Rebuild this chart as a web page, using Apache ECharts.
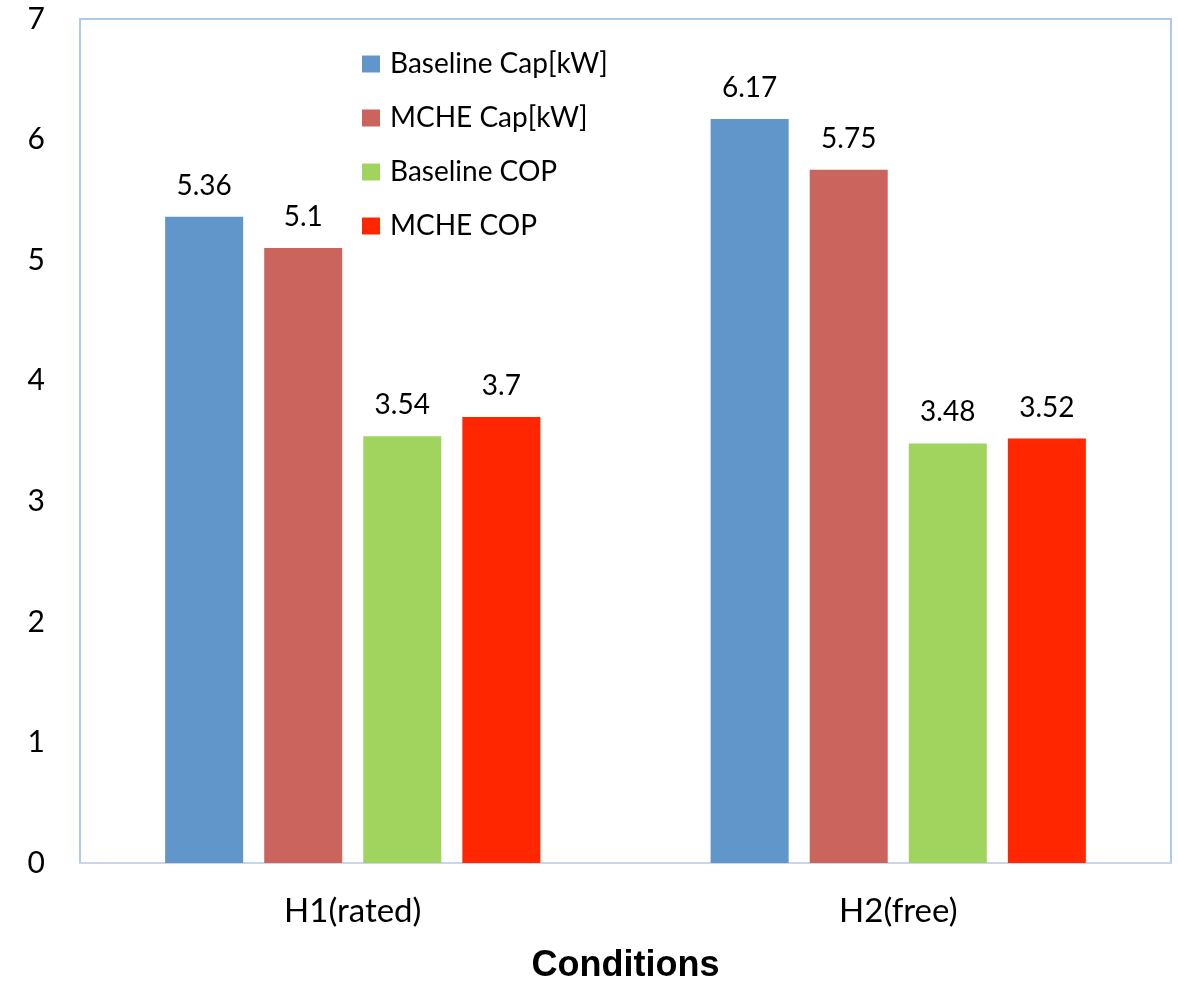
<!DOCTYPE html>
<html>
<head>
<meta charset="utf-8">
<script src="https://cdn.jsdelivr.net/npm/echarts@6/dist/echarts.min.js"></script>
<style>
  html, body { margin: 0; padding: 0; background: #ffffff; }
  #chart { width: 1178px; height: 989px; }
</style>
</head>
<body>
<div id="chart"></div>
<script>
// Operating conditions along the x axis
const categories = ['H1(rated)', 'H2(free)'];

// Heating capacity [kW] and COP per condition
const baselineCap = [5.36, 6.17];
const mcheCap = [5.1, 5.75];
const baselineCop = [3.54, 3.48];
const mcheCop = [3.7, 3.52];

const seriesNames = ['Baseline Cap[kW]', 'MCHE Cap[kW]', 'Baseline COP', 'MCHE COP'];
const seriesValues = [baselineCap, mcheCap, baselineCop, mcheCop];
const seriesColors = ['#6096ca', '#cc645e', '#a1d45f', '#ff2600'];

const FONT = 'Lato, "Liberation Sans", sans-serif';

const chart = echarts.init(document.getElementById('chart'), null, { renderer: 'canvas' });

chart.setOption({
  backgroundColor: '#ffffff',
  animation: false,
  textStyle: { fontFamily: FONT, color: '#000' },
  grid: {
    left: 80, right: 7, top: 19, bottom: 121,
    show: true,
    borderColor: '#abcbed',
    borderWidth: 2,
    backgroundColor: 'transparent'
  },
  legend: {
    orient: 'vertical',
    left: 357,
    top: 45,
    itemWidth: 18,
    itemHeight: 17,
    itemGap: 26,
    icon: 'rect',
    textStyle: { fontFamily: FONT, fontSize: 28, lineHeight: 28, color: '#000', padding: [0, 0, 0, 5] },
    data: seriesNames
  },
  xAxis: {
    type: 'category',
    data: categories,
    axisLine: { show: true, lineStyle: { color: '#c8d6e8', width: 2 } },
    axisTick: { show: false },
    axisLabel: { fontFamily: FONT, fontSize: 33, color: '#000', margin: 32 },
    name: 'Conditions',
    nameLocation: 'middle',
    nameGap: 85,
    nameTextStyle: { fontFamily: '"Liberation Sans", Arial, sans-serif', fontSize: 36, fontWeight: 'bold', color: '#000' }
  },
  yAxis: {
    type: 'value',
    min: 0,
    max: 7,
    interval: 1,
    axisLine: { show: true, lineStyle: { color: '#abcbed', width: 2 } },
    axisTick: { show: false },
    splitLine: { show: false },
    axisLabel: { fontFamily: FONT, fontSize: 30, color: '#000', margin: 35, padding: [8, 0, 0, 0] }
  },
  series: seriesNames.map((name, i) => ({
    name: name,
    type: 'bar',
    data: seriesValues[i],
    barWidth: '14.3%',
    barGap: '27%',
    itemStyle: { color: seriesColors[i] },
    label: {
      show: true,
      position: 'top',
      distance: 17,
      fontFamily: FONT,
      fontSize: 28,
      color: '#000'
    }
  }))
});
</script>
</body>
</html>
